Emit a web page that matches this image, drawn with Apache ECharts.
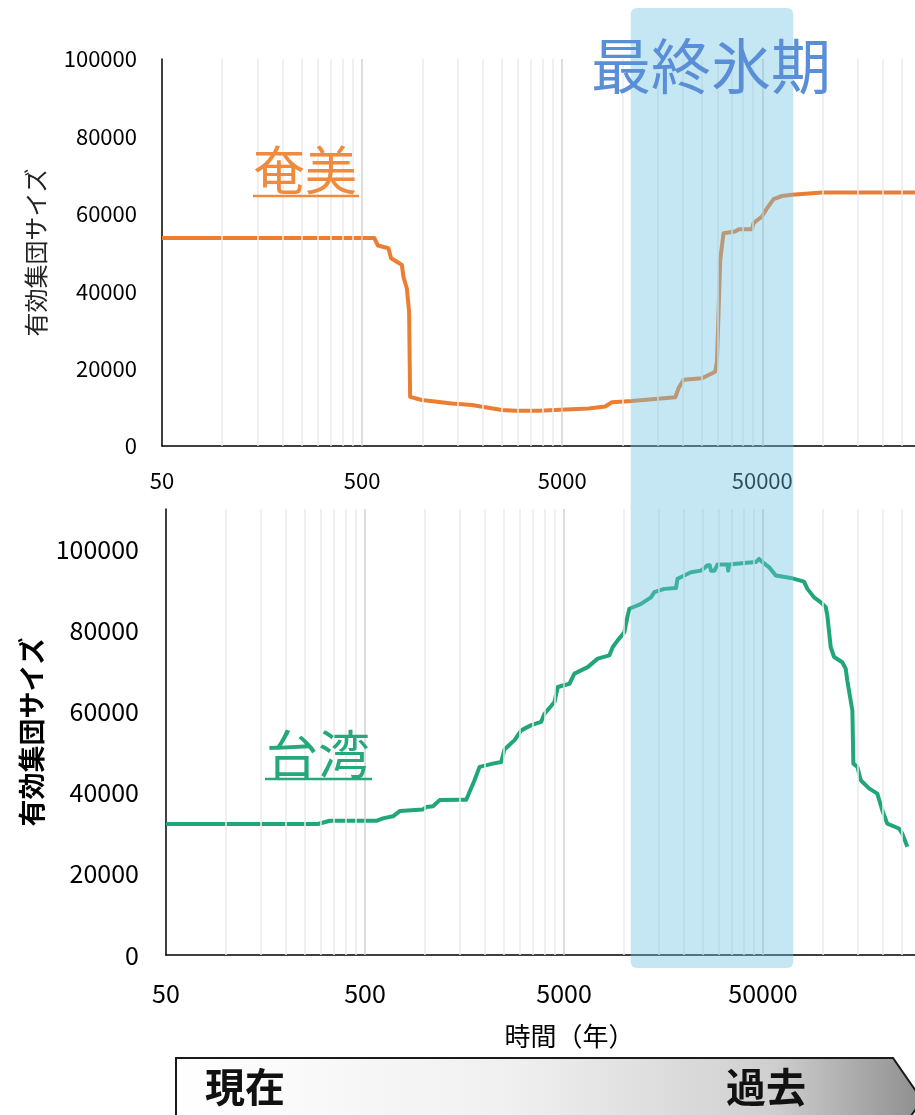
<!DOCTYPE html>
<html>
<head>
<meta charset="utf-8">
<script src="https://cdn.jsdelivr.net/npm/echarts@6/dist/echarts.min.js"></script>
<style>
html,body{margin:0;padding:0;background:#fff;}
#c{width:915px;height:1115px;}
</style>
</head>
<body>
<div id="c"></div>
<script>
// ---- data ----
const xTickLabels = [50, 500, 5000, 50000];
const minorGrid = [100,150,200,250,300,350,400,450,
  1000,1500,2000,2500,3000,3500,4000,4500,
  10000,15000,20000,25000,30000,35000,40000,45000,
  100000,150000,200000,250000];
const majorGrid = [500, 5000, 50000];

const amamiYears = [50,575,600,677,698,746,790,805,837,859,869,994,1404,1768,2497,2911,3805,6767,8204,8866,11160,18365,19075,20210,24970,29105,29680,30235,30830,32025,36500,38300,44410,45235,49825,52780,56950,62750,70400,99400,290000];
const amamiNe    = [53750,53750,51800,51100,48500,47600,46800,43700,40700,34700,12700,11900,11000,10600,9300,9100,9100,9700,10200,11300,11600,12600,14900,17100,17500,19200,21800,34300,48100,55000,55400,56000,56000,57600,59300,61400,63800,64600,64900,65500,65500];

const taiwanYears = [50,290,333,570,615,691,747,977,1016,1097,1185,1494,1613,1675,1775,1881,2193,2417,2510,2819,3046,3419,3837,3988,4475,4650,5322,5637,6575,7380,8450,8776,9296,10045,10440,10646,12186,13673,14212,15950,18250,18590,21725,24375,26300,27000,27350,28500,29500,33100,33400,33800,40200,46000,47750,49650,53700,57950,68900,80350,83500,90200,97500,103250,105200,109400,113750,125000,130100,132500,140500,142150,148900,154800,170350,187500,198600,210350,240950,250100,265450];
const taiwanNe    = [32300,32300,33100,33100,33700,34200,35500,35900,36500,36700,38200,38300,38300,40200,43100,46400,47200,47600,50700,53000,55400,56700,57500,59500,62400,66100,66900,69400,71000,73100,73900,75900,77600,79600,83700,85400,86600,88200,89500,90300,90500,92800,94400,94800,96100,96100,94800,94800,96300,96300,94800,96300,96700,96900,97700,96900,95600,93600,93000,92100,90300,88200,87000,85800,83700,75900,73500,72200,70600,67700,60300,47200,46400,43100,41100,39800,35700,32400,31200,30000,26700];

const yTicksTop = [0, 100000, 20000];      // min, max, interval
const yTicksBottom = [0, 110000, 20000];
const glacialPeriod = [11000, 71500];      // years
const yName = '有効集団サイズ';
const xName = '時間（年）';

// ---- chart ----
const FONT = "'Noto Sans CJK JP', 'Noto Sans', sans-serif";
const chart = echarts.init(document.getElementById('c'), null, {renderer: 'canvas'});

function pairs(xs, ys){ return xs.map((x,i)=>[x, ys[i]]); }
const plain = v => String(Math.round(v));

function xAxis(gi, fs, margin, extra){
  return Object.assign({
    type: 'log', logBase: 10, gridIndex: gi, min: 50, max: 290000,
    axisLine: {show: true, onZero: false, lineStyle: {color: '#000', width: 1.5}},
    axisTick: {show: false},
    splitLine: {show: false},
    minorTick: {show: false},
    axisLabel: {customValues: xTickLabels, formatter: plain, fontSize: fs, color: '#000', margin: margin, fontFamily: FONT}
  }, extra || {});
}
function yAxis(gi, t, fs, margin, extra){
  return Object.assign({
    type: 'value', gridIndex: gi, min: t[0], max: t[1], interval: t[2],
    axisLine: {show: true, lineStyle: {color: '#000', width: 1.5}},
    axisTick: {show: false},
    splitLine: {show: false},
    axisLabel: {formatter: plain, fontSize: fs, color: '#000', margin: margin, fontFamily: FONT, showMaxLabel: t[1] % t[2] === 0}
  }, extra || {});
}
function gridLines(xi, yi){
  const ml = [];
  minorGrid.forEach(v => ml.push({xAxis: v, lineStyle: {color: '#EBEBEB', width: 1.5, type: 'solid'}}));
  majorGrid.forEach(v => ml.push({xAxis: v, lineStyle: {color: '#D2D2D2', width: 1.5, type: 'solid'}}));
  return {
    type: 'line', xAxisIndex: xi, yAxisIndex: yi, data: [], z: 1, silent: true,
    markLine: {silent: true, symbol: ['none','none'], label: {show: false}, animation: false, data: ml}
  };
}

const option = {
  animation: false,
  backgroundColor: '#fff',
  textStyle: {fontFamily: FONT},
  grid: [
    {left: 162, top: 59, width: 753, height: 387},
    {left: 166, top: 509, width: 749, height: 446}
  ],
  xAxis: [
    xAxis(0, 22, 24),
    xAxis(1, 25, 26, {name: xName, nameLocation: 'middle', nameGap: 68,
      nameTextStyle: {fontSize: 26, color: '#000', fontFamily: FONT, padding: [0, 0, 0, 58]}})
  ],
  yAxis: [
    yAxis(0, yTicksTop, 22, 25, {name: yName, nameLocation: 'middle', nameGap: 114, nameRotate: 90,
      nameTextStyle: {fontSize: 24, color: '#222', fontFamily: FONT}}),
    yAxis(1, yTicksBottom, 25, 27, {name: yName, nameLocation: 'middle', nameGap: 117, nameRotate: 90,
      nameTextStyle: {fontSize: 27, color: '#000', fontWeight: 'bold', fontFamily: FONT}})
  ],
  series: [
    gridLines(0, 0),
    gridLines(1, 1),
    {type: 'line', name: '奄美', xAxisIndex: 0, yAxisIndex: 0, data: pairs(amamiYears, amamiNe),
      showSymbol: false, symbol: 'none', z: 3, lineStyle: {color: '#ED7D31', width: 4, join: 'round'}},
    {type: 'line', name: '台湾', xAxisIndex: 1, yAxisIndex: 1, data: pairs(taiwanYears, taiwanNe),
      showSymbol: false, symbol: 'none', z: 3, lineStyle: {color: '#20A679', width: 4, join: 'round'}}
  ]
};
chart.setOption(option);

const bx0 = chart.convertToPixel({xAxisIndex: 0}, glacialPeriod[0]);
const bx1 = chart.convertToPixel({xAxisIndex: 0}, glacialPeriod[1]);

chart.setOption({
  graphic: [
    {type: 'rect', z: 100, silent: true,
      shape: {x: bx0, y: 8, width: bx1 - bx0, height: 960, r: 6},
      style: {fill: 'rgba(110,195,228,0.4)'}},
    {type: 'text', z: 101, silent: true,
      style: {text: '最終氷期', x: 711, y: 66, textAlign: 'center', textVerticalAlign: 'middle',
        fontSize: 60, fontFamily: FONT, fill: '#5A8ED6'}},
    {type: 'text', z: 101, silent: true,
      style: {text: '奄美', x: 305, y: 170, textAlign: 'center', textVerticalAlign: 'middle',
        fontSize: 52, fontFamily: FONT, fill: '#F08A3C'}},
    {type: 'line', z: 101, silent: true, shape: {x1: 253, y1: 196, x2: 359, y2: 196},
      style: {stroke: '#F08A3C', lineWidth: 2.5}},
    {type: 'text', z: 101, silent: true,
      style: {text: '台湾', x: 318, y: 754, textAlign: 'center', textVerticalAlign: 'middle',
        fontSize: 52, fontFamily: FONT, fill: '#25A97C'}},
    {type: 'line', z: 101, silent: true, shape: {x1: 265, y1: 779, x2: 372, y2: 779},
      style: {stroke: '#25A97C', lineWidth: 2.5}},
    {type: 'polygon', z: 90, silent: true,
      shape: {points: [[176,1058],[893,1058],[922,1100],[893,1142],[176,1142]]},
      style: {stroke: '#1a1a1a', lineWidth: 2,
        fill: {type: 'linear', x: 0, y: 0, x2: 1, y2: 0, colorStops: [
          {offset: 0, color: '#ffffff'}, {offset: 0.45, color: '#f0f0f0'},
          {offset: 0.8, color: '#cfcfcf'}, {offset: 1, color: '#8e8e8e'}]}}},
    {type: 'text', z: 91, silent: true,
      style: {text: '現在', x: 245, y: 1087, textAlign: 'center', textVerticalAlign: 'middle',
        fontSize: 40, fontWeight: 'bold', fontFamily: FONT, fill: '#111'}},
    {type: 'text', z: 91, silent: true,
      style: {text: '過去', x: 766, y: 1087, textAlign: 'center', textVerticalAlign: 'middle',
        fontSize: 40, fontWeight: 'bold', fontFamily: FONT, fill: '#111'}}
  ]
});
</script>
</body>
</html>
